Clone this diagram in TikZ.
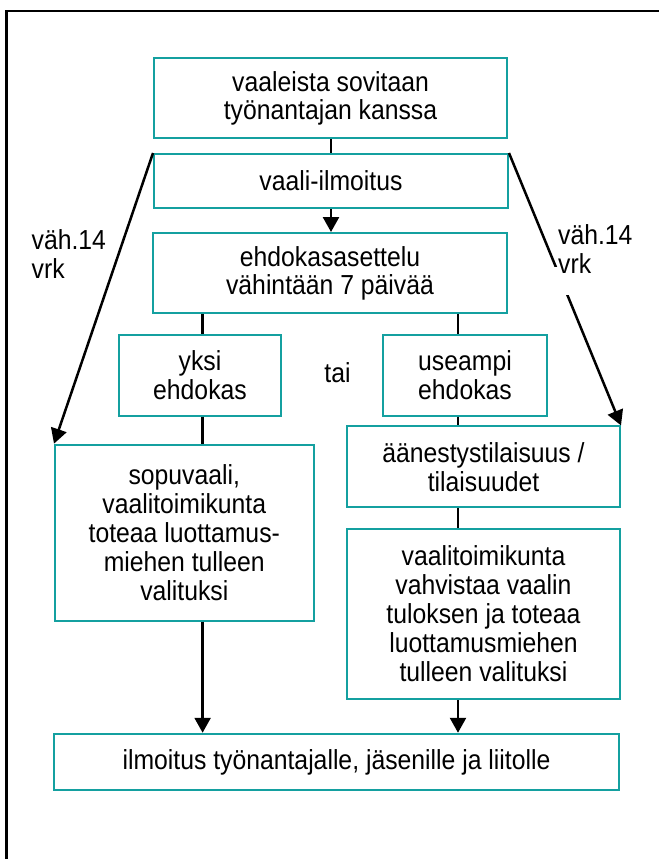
\documentclass[tikz,border=0pt]{standalone}
\usepackage{fontspec}
\setmainfont{Liberation Sans}[FakeStretch=0.9]
\usetikzlibrary{arrows.meta}
\definecolor{boxteal}{RGB}{20,160,160}
\begin{document}
\begin{tikzpicture}[x=1pt,y=-1pt,
  box/.style={draw=boxteal,line width=2pt,fill=white,align=center,inner sep=0pt,
    font=\fontsize{27.5}{29}\selectfont},
  conn/.style={draw=black,line width=2.5pt},
  arr/.style={conn,-{Triangle[length=15pt,width=16pt]}},
  lbl/.style={align=left,inner sep=0pt,font=\fontsize{27.5}{29}\selectfont}]
\useasboundingbox (0,0) rectangle (659,859);
% outer frame (only top and left edges visible)
\draw[line width=2.5pt] (6.5,859) -- (6.5,11) -- (659,11);
% boxes
\node[box,minimum width=353pt,minimum height=80pt,font=\fontsize{27.5}{28}\selectfont] (b1) at (330.5,98) {vaaleista sovitaan\\työnantajan kanssa};
\node[box,minimum width=354pt,minimum height=54pt] (b2) at (331,181) {vaali-ilmoitus};
\node[box,minimum width=354pt,minimum height=80pt,font=\fontsize{27.5}{28}\selectfont] (b3) at (330,273) {ehdokasasettelu\\vähintään 7 päivää};
\node[box,minimum width=162.5pt,minimum height=81pt] (yksi) at (200,375) {yksi\\ehdokas};
\node[box,minimum width=164pt,minimum height=81pt] (use) at (465,375) {useampi\\ehdokas};
\node[lbl] (tai) at (337.5,373) {tai};
\node[box,minimum width=258.6pt,minimum height=176pt] (sopu) at (184.3,532.7) {sopuvaali,\\vaalitoimikunta\\toteaa luottamus-\\miehen tulleen\\valituksi};
\node[box,minimum width=273pt,minimum height=80.5pt] (aan) at (483.5,466.7) {äänestystilaisuus /\\tilaisuudet};
\node[box,minimum width=273pt,minimum height=170pt] (vt) at (483.5,614) {vaalitoimikunta\\vahvistaa vaalin\\tuloksen ja toteaa\\luottamusmiehen\\tulleen valituksi};
\node[box,minimum width=565pt,minimum height=56.5pt] (ilm) at (336.5,762) {ilmoitus työnantajalle, jäsenille ja liitolle};
% x positions of vertical connectors
\coordinate (xm) at (331,0);
\coordinate (xl) at (202.6,0);
\coordinate (xr) at (458,0);
% connectors
\draw[conn] (b1.south -| xm) -- (b2.north -| xm);
\draw[arr] (b2.south -| xm) -- (b3.north -| xm);
\draw[conn] (b3.south -| xl) -- (yksi.north -| xl);
\draw[conn] (b3.south -| xr) -- (use.north -| xr);
\draw[conn] (yksi.south -| xl) -- (sopu.north -| xl);
\draw[conn] (use.south -| xr) -- (aan.north -| xr);
\draw[conn] (aan.south -| xr) -- (vt.north -| xr);
\draw[arr] (sopu.south -| xl) -- (ilm.north -| xl);
\draw[arr] (vt.south -| xr) -- (ilm.north -| xr);
\draw[arr] (b2.north west) -- (sopu.north west);
\draw[arr] (b2.north east) -- (aan.north east);
% gap in the right diagonal
\fill[white] (550,267) rectangle (575,295);
% labels
\node[lbl,anchor=west] (ll) at (31.5,254) {väh.14\\vrk};
\node[lbl,anchor=west] (rl) at (558,249) {väh.14\\vrk};
\end{tikzpicture}
\end{document}
